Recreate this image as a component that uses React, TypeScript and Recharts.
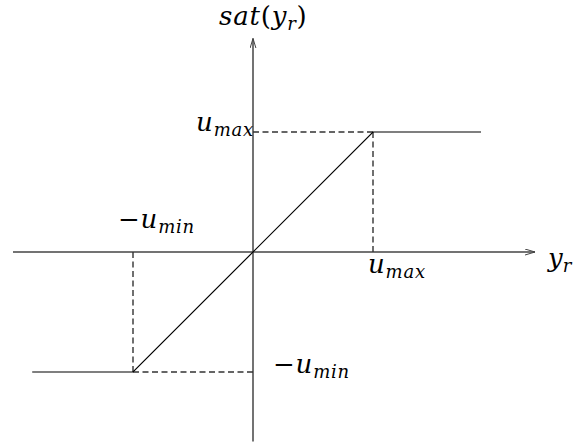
import React from 'react';
import { LineChart, Line, XAxis, YAxis, ReferenceLine, ReferenceDot } from 'recharts';

// saturation curve: flat at -u_min, linear through origin, flat at u_max
const satX = [-1.84, -1, 1, 1.9];
const satY = [-1, -1, 1, 1];
const uMax = 1;
const uMin = 1;
const xDomain: [number, number] = [-2, 2.35];
const yDomain: [number, number] = [-1.6, 1.8];
const yAxisTop = 1.78;
const yAxisBottom = -1.58;

const data = satX.map((x, i) => ({ x, y: satY[i] }));

const FONT = '"DejaVu Serif", "Liberation Serif", serif';
const BIG = 26;
const SUB = 18;
const DASH = '6 3.5';

type Part = { t: string; sub?: boolean; upright?: boolean };

const mathLabel = (parts: Part[], dx: number, dy: number, anchor: 'start' | 'end' = 'start', spacing = 0.8) =>
  (props: any) => {
    const vb = props.viewBox || {};
    const cx = vb.x + (vb.width || 0) / 2;
    const cy = vb.y + (vb.height || 0) / 2;
    let shift = 0;
    return (
      <text
        x={cx + dx}
        y={cy + dy}
        textAnchor={anchor}
        fontFamily={FONT}
        fontSize={BIG}
        letterSpacing={spacing}
        fill="#000"
      >
        {parts.map((p, i) => {
          const target = p.sub ? 5 : 0;
          const d = target - shift;
          shift = target;
          return (
            <tspan
              key={i}
              dy={d}
              fontSize={p.sub ? SUB : BIG}
              fontStyle={p.upright ? 'normal' : 'italic'}
            >
              {p.t}
            </tspan>
          );
        })}
      </text>
    );
  };

const App = () => {
  return (
    <div style={{ position: 'absolute', left: 0, top: 0, width: 573, height: 447, background: '#fff' }}>
      <LineChart
        width={573}
        height={447}
        data={data}
        margin={{ top: 36, right: 38, left: 13, bottom: 3 }}
      >
        <defs>
          <marker
            id="arrowHead"
            markerUnits="userSpaceOnUse"
            markerWidth={12}
            markerHeight={8}
            refX={10}
            refY={3}
            orient="auto"
          >
            <path d="M0,0 L10,3 L0,6" fill="none" stroke="#444" strokeWidth={1} />
          </marker>
        </defs>
        <XAxis type="number" dataKey="x" domain={xDomain} hide />
        <YAxis type="number" domain={yDomain} hide />

        {/* axes */}
        <ReferenceLine
          segment={[{ x: xDomain[0], y: 0 }, { x: xDomain[1], y: 0 }]}
          stroke="#444"
          strokeWidth={1.5}
          markerEnd="url(#arrowHead)"
          ifOverflow="visible"
        />
        <ReferenceLine
          segment={[{ x: 0, y: yAxisBottom }, { x: 0, y: yAxisTop }]}
          stroke="#444"
          strokeWidth={1.5}
          markerEnd="url(#arrowHead)"
          ifOverflow="visible"
        />

        {/* dashed guides */}
        <ReferenceLine segment={[{ x: 0, y: uMax }, { x: uMax, y: uMax }]} stroke="#333" strokeWidth={1.4} strokeDasharray={DASH} ifOverflow="visible" />
        <ReferenceLine segment={[{ x: uMax, y: uMax }, { x: uMax, y: 0 }]} stroke="#333" strokeWidth={1.4} strokeDasharray={DASH} ifOverflow="visible" />
        <ReferenceLine segment={[{ x: -uMin, y: 0 }, { x: -uMin, y: -uMin }]} stroke="#333" strokeWidth={1.4} strokeDasharray={DASH} ifOverflow="visible" />
        <ReferenceLine segment={[{ x: -uMin, y: -uMin }, { x: 0, y: -uMin }]} stroke="#333" strokeWidth={1.4} strokeDasharray={DASH} ifOverflow="visible" />

        <Line
          type="linear"
          dataKey="y"
          stroke="#000"
          strokeWidth={1.2}
          dot={false}
          activeDot={false}
          isAnimationActive={false}
        />

        {/* labels */}
        <ReferenceDot x={0} y={yAxisTop} r={1} fill="none" stroke="none" ifOverflow="visible"
          label={{ content: mathLabel([{ t: 'sat', }, { t: '(', upright: true }, { t: 'y' }, { t: 'r', sub: true }, { t: ')', upright: true }], -34, -13) }} />
        <ReferenceDot x={0} y={uMax} r={1} fill="none" stroke="none" ifOverflow="visible"
          label={{ content: mathLabel([{ t: 'u' }, { t: 'max', sub: true }], 1, -1, 'end') }} />
        <ReferenceDot x={uMax} y={0} r={1} fill="none" stroke="none" ifOverflow="visible"
          label={{ content: mathLabel([{ t: 'u' }, { t: 'max', sub: true }], -5, 21) }} />
        <ReferenceDot x={xDomain[1]} y={0} r={1} fill="none" stroke="none" ifOverflow="visible"
          label={{ content: mathLabel([{ t: 'y' }, { t: 'r', sub: true }], 13, 15, 'start', 0) }} />
        <ReferenceDot x={-uMin} y={0} r={1} fill="none" stroke="none" ifOverflow="visible"
          label={{ content: mathLabel([{ t: '\u2212', upright: true }, { t: 'u' }, { t: 'min', sub: true }], -15, -24) }} />
        <ReferenceDot x={0} y={-uMin} r={1} fill="none" stroke="none" ifOverflow="visible"
          label={{ content: mathLabel([{ t: '\u2212', upright: true }, { t: 'u' }, { t: 'min', sub: true }], 20, 1) }} />
      </LineChart>
    </div>
  );
};

export default App;
